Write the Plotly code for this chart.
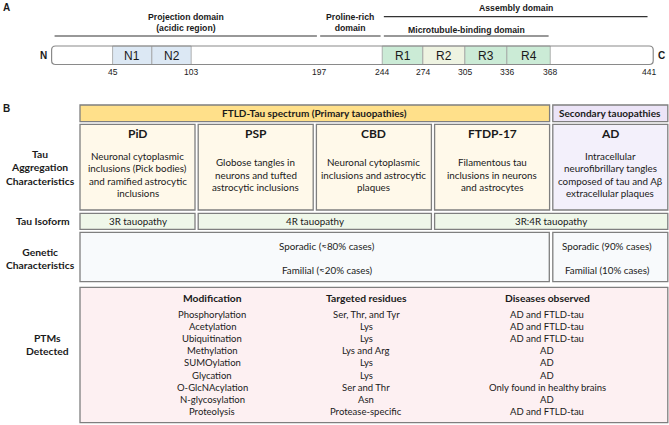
import plotly.graph_objects as go

# ---------------- data ----------------
protein_length = 441
domain_names = ["N1", "N2", "R1", "R2", "R3", "R4"]
domain_start = [45, 74, 244, 274, 305, 336]
domain_end = [74, 103, 274, 305, 336, 368]
tick_residues = [45, 103, 197, 244, 274, 305, 336, 368, 441]

region_labels = ["Projection domain<br>(acidic region)", "Proline-rich<br>domain",
                 "Assembly domain", "Microtubule-binding domain"]
region_start = [1, 197, 244, 244]
region_end = [197, 244, 441, 368]

group_headers = ["FTLD-Tau spectrum (Primary tauopathies)", "Secondary tauopathies"]
group_span = [(0, 3), (4, 4)]

disease_names = ["PiD", "PSP", "CBD", "FTDP-17", "AD"]
disease_desc = [
    ["Neuronal cytoplasmic", "inclusions (Pick bodies)", "and ramified astrocytic", "inclusions"],
    ["Globose tangles in", "neurons and tufted", "astrocytic inclusions"],
    ["Neuronal cytoplasmic", "inclusions and astrocytic", "plaques"],
    ["Filamentous tau", "inclusions in neurons", "and astrocytes"],
    ["Intracellular", "neurofibrillary tangles", "composed of tau and Aβ", "extracellular plaques"],
]

row_labels = ["Tau<br>Aggregation<br>Characteristics", "Tau Isoform",
              "Genetic<br>Characteristics", "PTMs<br>Detected"]

isoform_labels = ["3R tauopathy", "4R tauopathy", "3R:4R tauopathy"]
isoform_span = [(0, 0), (1, 2), (3, 4)]

genetic_sporadic = ["Sporadic (≈80% cases)", "Sporadic (90% cases)"]
genetic_familial = ["Familial (≈20% cases)", "Familial (10% cases)"]
genetic_span = [(0, 3), (4, 4)]

ptm_headers = ["Modification", "Targeted residues", "Diseases observed"]
ptm_modification = ["Phosphorylation", "Acetylation", "Ubiquitination", "Methylation",
                    "SUMOylation", "Glycation", "O-GlcNAcylation", "N-glycosylation", "Proteolysis"]
ptm_residues = ["Ser, Thr, and Tyr", "Lys", "Lys", "Lys and Arg", "Lys", "Lys",
                "Ser and Thr", "Asn", "Protease-specific"]
ptm_diseases = ["AD and FTLD-tau", "AD and FTLD-tau", "AD and FTLD-tau", "AD", "AD", "AD",
                "Only found in healthy brains", "AD", "AD and FTLD-tau"]

# ---------------- styles / layout geometry ----------------
W, H = 669, 425
PX0, PXS = 51.6, 1.355  # residue axis placement (px at residue 0, px per residue)
res_range = [-PX0 / PXS, (W - PX0) / PXS]
RX = 4 / PXS

domain_colors = ["#DCE8F4", "#DCE8F4", "#CBEBD6", "#EEF3E1", "#CBEBD6", "#CBEBD6"]
region_line_y = [36, 36, 16.7, 36]
region_text_y = [22.7, 22.7, 8, 30]
ARIAL = "Liberation Sans, Arial, sans-serif"
LATO = "Lato, sans-serif"
TXT = "#1a1a1a"
BORDER = "#7f7f7f"

col_x0 = [80 + i * 118.2 for i in range(5)]
col_w = 115.0
rows = {"head": (105, 121.7), "desc": (124.3, 210), "iso": (213.3, 229.3),
        "gen": (232.3, 281.7), "ptm": (287.3, 422.7)}


def span(a, b):
    return col_x0[a], col_x0[b] + col_w


shapes = []
ann = []


def box(x0, x1, y0, y1, fill):
    shapes.append(dict(type="rect", xref="x2", yref="y", x0=x0, x1=x1, y0=y0, y1=y1,
                       fillcolor=fill, line=dict(color=BORDER, width=1.3), layer="below"))


def text(x, y, s, size, bold=False, xref="x2", family=LATO, **kw):
    if bold:
        s = "<b>" + s.replace("<br>", "</b><br><b>") + "</b>"
    ann.append(dict(x=x, y=y, xref=xref, yref="y", text=s, showarrow=False,
                    font=dict(family=family, size=size, color=TXT), **kw))


# ---- Panel A ----
text(6, 7, "A", 10, bold=True, family=ARIAL)
for name, s, e, c in zip(domain_names, domain_start, domain_end, domain_colors):
    shapes.append(dict(type="rect", xref="x", yref="y", x0=s, x1=e, y0=46, y1=64.5,
                       fillcolor=c, line=dict(color="#a0a0a0", width=0.8)))
    text((s + e) / 2, 55.5, name, 12, xref="x", family=ARIAL)

x0, x1, y0, y1, ry = 0, protein_length + 3, 46, 64.5, 4
path = (f"M {x0+RX},{y0} L {x1-RX},{y0} Q {x1},{y0} {x1},{y0+ry} L {x1},{y1-ry} "
        f"Q {x1},{y1} {x1-RX},{y1} L {x0+RX},{y1} Q {x0},{y1} {x0},{y1-ry} "
        f"L {x0},{y0+ry} Q {x0},{y0} {x0+RX},{y0} Z")
shapes.append(dict(type="path", xref="x", yref="y", path=path,
                   line=dict(color="#8a8a8a", width=1.2), fillcolor="rgba(0,0,0,0)"))
text(0, 55.5, "N", 10, bold=True, xref="x", family=ARIAL, xanchor="right", xshift=-3)
text(x1, 55.5, "C", 10, bold=True, xref="x", family=ARIAL, xanchor="left", xshift=3)

for r in tick_residues:
    text(r, 71.5, str(r), 8.5, xref="x", family=ARIAL)

for lab, s, e, ly, ty in zip(region_labels, region_start, region_end, region_line_y, region_text_y):
    shapes.append(dict(type="line", xref="x", yref="y", x0=s + 1.2, x1=e - 1.2, y0=ly, y1=ly,
                       line=dict(color="#333333", width=1.2)))
    text((s + e) / 2, ty, lab, 8.7, bold=True, xref="x", family=ARIAL)

# ---- Panel B ----
text(6, 108, "B", 10, bold=True, family=ARIAL)

head_fill = ["#FFE08A", "#ECE4F7"]
for lab, (a, b), f in zip(group_headers, group_span, head_fill):
    xa, xb = span(a, b)
    box(xa, xb, *rows["head"], f)
    text((xa + xb) / 2, sum(rows["head"]) / 2, lab, 10, bold=True)

desc_fill = ["#FFF9EA"] * 4 + ["#F3F0FB"]
for i, (nm, lines) in enumerate(zip(disease_names, disease_desc)):
    xa, xb = span(i, i)
    box(xa, xb, *rows["desc"], desc_fill[i])
    text((xa + xb) / 2, 133.5, nm, 12, bold=True)
    n = len(lines)
    for j, ln in enumerate(lines):
        text((xa + xb) / 2, 174.5 + (j - (n - 1) / 2) * 12.4, ln, 9.8)

for lab, (a, b) in zip(isoform_labels, isoform_span):
    xa, xb = span(a, b)
    box(xa, xb, *rows["iso"], "#EFF7E9")
    text((xa + xb) / 2, sum(rows["iso"]) / 2, lab, 9.8)

gen_shift = [12, -3]
for sp, fa, (a, b), sh in zip(genetic_sporadic, genetic_familial, genetic_span, gen_shift):
    xa, xb = span(a, b)
    if b == 3:
        xb = col_x0[4] - 3.5
    box(xa, xb, *rows["gen"], "#F8FAFC")
    text((xa + xb) / 2 + sh, 245.5, sp, 9.8)
    text((xa + xb) / 2 + sh, 270, fa, 9.8)

xa, xb = span(0, 4)
box(xa, xb, *rows["ptm"], "#FDF0F2")
ptm_cols_x = [212, 366, 547]
for cx, hd, vals in zip(ptm_cols_x, ptm_headers, [ptm_modification, ptm_residues, ptm_diseases]):
    text(cx, 297.5, hd, 10.3, bold=True)
    for j, v in enumerate(vals):
        text(cx, 314 + j * 12.2, v, 9.5)

label_pos = [(40, 167.5), (43, 221.3), (40, 258.5), (47, 344)]
for lab, (lx, ly) in zip(row_labels, label_pos):
    text(lx, ly, lab, 10.3, bold=True)

fig = go.Figure()
fig.add_trace(go.Scatter(x=[0], y=[0], xaxis="x", yaxis="y", mode="markers",
                         marker=dict(opacity=0), hoverinfo="skip", showlegend=False))
fig.add_trace(go.Scatter(x=[0], y=[0], xaxis="x2", yaxis="y", mode="markers",
                         marker=dict(opacity=0), hoverinfo="skip", showlegend=False))
fig.update_layout(
    width=W, height=H, margin=dict(l=0, r=0, t=0, b=0),
    paper_bgcolor="white", plot_bgcolor="white", showlegend=False,
    xaxis=dict(range=res_range, visible=False, domain=[0, 1], fixedrange=True),
    xaxis2=dict(range=[0, W], visible=False, overlaying="x", anchor="y", fixedrange=True),
    yaxis=dict(range=[H, 0], visible=False, domain=[0, 1], fixedrange=True),
    shapes=shapes, annotations=ann,
)
fig.write_html("out.html", config={"displayModeBar": False},
               post_script="document.body.style.margin='0px';document.body.style.overflow='hidden';")
